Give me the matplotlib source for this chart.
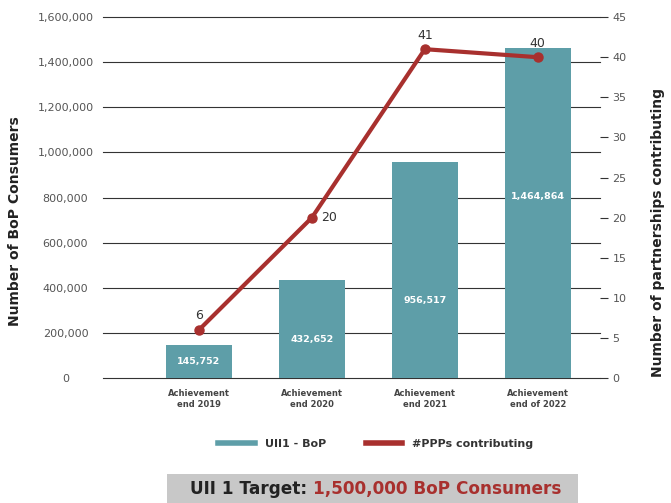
import matplotlib
matplotlib.use("Agg")
import matplotlib.pyplot as plt
import numpy as np
from matplotlib.patches import Rectangle
from matplotlib.lines import Line2D

categories = ["Achievement\nend 2019", "Achievement\nend 2020",
              "Achievement\nend 2021", "Achievement\nend of 2022"]
bop_consumers = [145752, 432652, 956517, 1464864]
ppp_counts = [6, 20, 41, 40]
left_ticks = [0, 200000, 400000, 600000, 800000, 1000000, 1200000, 1400000, 1600000]
right_ticks = [0, 5, 10, 15, 20, 25, 30, 35, 40, 45]

BAR_COLOR = "#5e9ea8"
LINE_COLOR = "#a8302e"
TEXT_GRAY = "#555555"

fig = plt.figure(figsize=(6.71, 5.03), dpi=100)
ax = fig.add_axes([0.1535, 0.2485, 0.7405, 0.7175])
ax2 = ax.twinx()

x = np.arange(len(categories))
ax.bar(x, bop_consumers, width=0.58, color=BAR_COLOR, zorder=2)
ax.set_ylim(0, 1600000)
ax.set_xlim(-0.85, 3.55)
ax.set_yticks(left_ticks)
ax.set_yticklabels([f"{v:,}" for v in left_ticks], fontsize=8, color=TEXT_GRAY)
for lab in ax.get_yticklabels():
    lab.set_horizontalalignment("center")
ax.tick_params(axis="y", length=0, pad=27)
ax.tick_params(axis="x", length=0, pad=8)
ax.set_xticks(x)
ax.set_xticklabels(categories, fontsize=6, fontweight="bold", color="#444444")
for t in left_ticks:
    ax.axhline(t, color="#333333", lw=0.8, zorder=1, clip_on=False)
for s in ax.spines.values():
    s.set_visible(False)
for s in ax2.spines.values():
    s.set_visible(False)

# value labels inside the bars
label_frac = [0.5, 0.39, 0.36, 0.55]
for xi, v, f in zip(x, bop_consumers, label_frac):
    ax.text(xi, v * f, f"{v:,}", ha="center", va="center", color="white",
            fontsize=6.8, fontweight="bold", zorder=3)

ax2.plot(x, ppp_counts, color=LINE_COLOR, lw=3, marker="o", ms=6.5, zorder=4)
ax2.set_ylim(0, 45)
ax2.set_yticks(right_ticks)
ax2.set_yticklabels([str(v) for v in right_ticks], fontsize=8, color=TEXT_GRAY)
ax2.tick_params(axis="y", length=6, width=0.8, color="#333333", pad=3)

offsets = [(0, 10), (12, 0), (0, 10), (0, 10)]
for xi, v, (dx, dy) in zip(x, ppp_counts, offsets):
    ax2.annotate(str(v), (xi, v), xytext=(dx, dy), textcoords="offset points",
                 ha="center", va="center", fontsize=9, color="#333333")

ax.set_zorder(ax2.get_zorder() - 1)
ax.patch.set_visible(False)

fig.text(0.023, 0.56, "Number of BoP Consumers", rotation=90, ha="center",
         va="center", fontsize=10, fontweight="bold", color="#222222")
fig.text(0.981, 0.537, "Number of partnerships contributing", rotation=90,
         ha="center", va="center", fontsize=10, fontweight="bold", color="#222222")

# legend
handles = [Line2D([0], [0], color=BAR_COLOR, lw=4),
           Line2D([0], [0], color=LINE_COLOR, lw=4)]
fig.legend(handles, ["UII1 - BoP", "#PPPs contributing"], loc="center",
           bbox_to_anchor=(0.56, 0.117), ncol=2, frameon=False,
           prop={"size": 8, "weight": "bold"}, handlelength=3.3,
           handletextpad=0.9, columnspacing=3.6, labelcolor="#333333")

# target banner
fig.patches.append(Rectangle((0.249, 0.0), 0.612, 0.058, transform=fig.transFigure,
                             facecolor="#c8c8c8", edgecolor="none", zorder=0))
t1 = fig.text(0.283, 0.027, "UII 1 Target: ", fontsize=12.2, fontweight="bold",
              color="#222222", va="center", ha="left")
fig.canvas.draw()
bb = t1.get_window_extent()
x_next = bb.x1 / fig.bbox.width
fig.text(x_next, 0.027, "1,500,000 BoP Consumers", fontsize=12.2, fontweight="bold",
         color=LINE_COLOR, va="center", ha="left")

fig.savefig("out.png", dpi=100)
